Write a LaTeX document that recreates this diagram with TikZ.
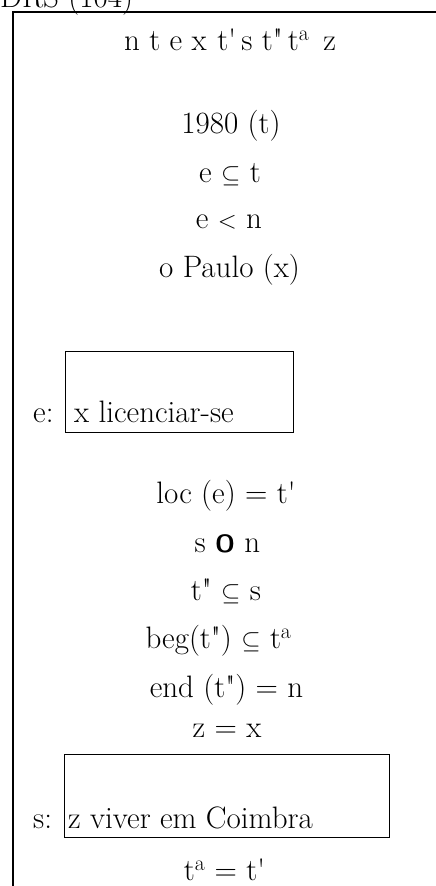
\documentclass[tikz,border=0pt]{standalone}
\usepackage{fontspec}
\usepackage{amssymb}
\newcommand{\supa}{\textsuperscript{a}}
\begin{document}
\begin{tikzpicture}[x=1pt,y=-1pt,
  txt/.style={anchor=base,inner sep=0pt,font=\fontsize{31}{37}\selectfont},
  lbl/.style={anchor=base west,inner sep=0pt,font=\fontsize{31}{37}\selectfont},
  subbox/.style={draw,line width=1.3pt}]
\useasboundingbox (0,0) rectangle (436,886);

% heading of the structure, partly above the page
\node[lbl] (title) at (0,8) {DRS (104)};

% outer frame (left and top edges)
\coordinate (tr) at (440,12);
\coordinate (tl) at (13,12);
\coordinate (bl) at (13,890);
\draw[line width=1.5pt] (tr) -- (tl) -- (bl);

% universe
\node[txt] (univ) at (230,50) {n t e x\hspace{0.35em}t\textquotesingle\,s t\textquotedbl\,t\supa\hspace{0.45em}z};

% conditions
\node[txt] (c1) at (231,133) {1980 (t)};
\node[txt] (c2) at (230,182) {e $\subseteq$ t};
\node[txt] (c3) at (229,228) {e $<$ n};
\node[txt] (c4) at (229.5,277) {o Paulo (x)};

% embedded box for e
\node[subbox,anchor=north west,minimum width=228pt,minimum height=81pt,inner sep=0pt] (ebox) at (65,351) {};
\node[lbl] (elab) at (33,422) {e:};
\node[lbl] (etxt) at (74,422) {x licenciar-se};

\node[txt] (c5) at (226,503) {loc (e) = t\textquotesingle};
\node[txt] (c6) at (227.5,552) {s {\fontsize{25}{30}\selectfont\sffamily\bfseries O} n};
\node[txt] (c7) at (226,600) {t\textquotedbl\ $\subseteq$ s};
\node[txt] (c8) at (218.5,648) {beg(t\textquotedbl) $\subseteq$ t\supa};
\node[txt] (c9) at (226.5,697) {end (t\textquotedbl) = n};
\node[txt] (c10) at (227,737) {z = x};

% embedded box for s
\node[subbox,anchor=north west,minimum width=325pt,minimum height=83pt,inner sep=0pt] (sbox) at (64,754) {};
\node[lbl] (slab) at (33,828) {s:};
\node[lbl] (stxt) at (68,828) {z viver em Coimbra};

\node[txt] (c11) at (224.5,880) {t\supa\ = t\textquotesingle};
\end{tikzpicture}
\end{document}
